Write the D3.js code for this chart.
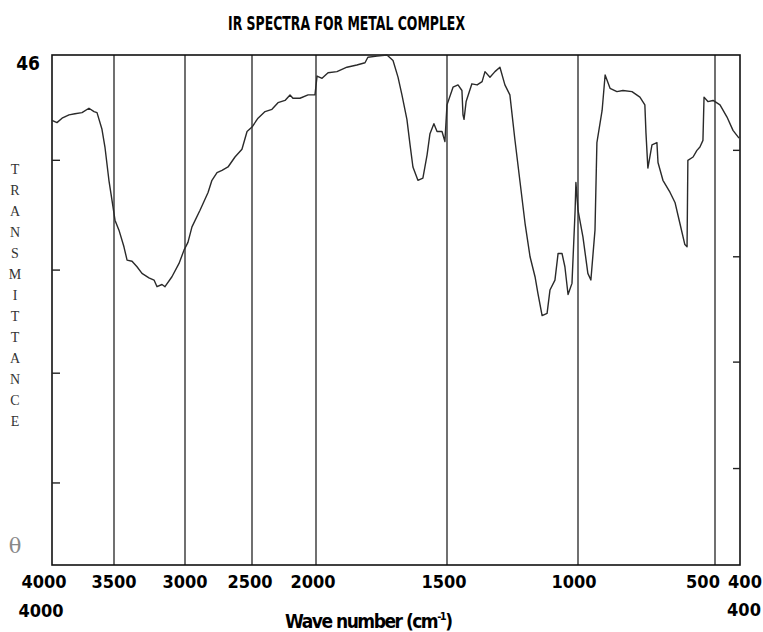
<!DOCTYPE html>
<html>
<head>
<meta charset="utf-8">
<script src="https://cdn.jsdelivr.net/npm/d3@7"></script>
<style>
	body { margin: 0; background: #fff; }
	svg { display: block; }
</style>
</head>
<body>
<script>
// wave number (cm-1) and transmittance, row by row
const wavenumber = [
	4000, 3960, 3919, 3863, 3815, 3758, 3702, 3661, 3637, 3597, 3573, 3541, 3508,
	3493, 3465, 3430, 3408, 3373, 3338, 3303, 3254, 3218, 3197, 3162, 3141, 3092, 3042, 3007,
	2978, 2948, 2888, 2828, 2799, 2761, 2724, 2679, 2627, 2575, 2537,
	2500, 2453, 2398, 2344, 2297, 2242, 2203, 2180, 2125, 2062, 2008,
	1996, 1977, 1954, 1920, 1882, 1844, 1813, 1802, 1767, 1729, 1706, 1687, 1672, 1653, 1641, 1630, 1611, 1592, 1576, 1565, 1550, 1538, 1519, 1508,
	1500, 1477, 1458, 1443, 1439, 1435, 1427, 1405, 1385, 1366, 1355, 1336, 1317, 1298, 1279, 1260, 1241, 1221, 1202, 1183, 1164, 1153, 1137,
	1118, 1107, 1088, 1076, 1061, 1050, 1038, 1023, 1011, 1008, 1000,
	982, 964, 953, 938, 931, 912, 901, 883, 858, 836, 803, 774, 756, 752, 745, 730, 712, 708, 690, 664, 646, 628, 610, 602,
	599, 580, 566, 555, 544, 540, 526, 507, 480, 452, 428, 404
];
const transmittance = [
	40.1, 39.9, 40.3, 40.6, 40.7, 40.8, 41.2, 40.9, 40.8, 39.3, 37.7, 34.7, 32.3,
	31.1, 30.2, 28.7, 27.5, 27.4, 26.9, 26.3, 25.9, 25.7, 25.1, 25.3, 25.1, 26.0, 27.2, 28.4,
	29.1, 30.5, 32.0, 33.6, 34.7, 35.4, 35.6, 35.9, 36.8, 37.5, 39.1,
	39.5, 40.3, 40.9, 41.1, 41.7, 41.9, 42.4, 42.1, 42.1, 42.4, 42.4,
	44.1, 43.9, 44.4, 44.5, 44.9, 45.1, 45.3, 45.8, 45.9, 46.0, 45.5, 44.0, 42.4, 40.2, 37.9, 35.9, 34.7, 34.9, 37.0, 38.9, 39.8, 39.1, 39.1, 38.2,
	41.5, 43.1, 43.3, 42.8, 40.6, 40.2, 41.8, 43.4, 43.3, 43.6, 44.5, 44.0, 44.5, 44.9, 43.3, 42.4, 38.4, 34.5, 30.8, 27.8, 26.0, 24.5, 22.5,
	22.7, 24.8, 25.7, 28.1, 28.1, 26.9, 24.4, 25.4, 32.0, 34.5, 32.0,
	29.6, 26.3, 25.7, 30.2, 38.1, 41.0, 44.2, 43.0, 42.7, 42.8, 42.7, 42.2, 41.5, 39.0, 35.8, 37.9, 38.1, 36.3, 34.7, 33.6, 32.7, 30.8, 28.9, 28.7,
	36.5, 36.8, 37.4, 37.7, 38.3, 42.2, 41.8, 41.9, 41.5, 40.4, 39.2, 38.5
];

// instrument chart paper: scale doubles below 2000
const grid_values = [4000, 3500, 3000, 2500, 2000, 1500, 1000, 500, 400];
const grid_lines = [3500, 3000, 2500, 2000, 1500, 1000, 500];
const tick_labels = ["4000", "3500", "3000", "2500", "2000", "1500", "1000", "500", "400"];
const left_ticks = [36.5, 26.6, 17.3, 7.4];
const right_ticks = [37.4, 27.8, 18.3, 8.7];
const ylabel = "TRANSMITTANCE";

const W = 763, H = 632;
const m = { left: 52, right: 740, top: 55, bottom: 565 };
const digits = "'DejaVu Sans Condensed', 'DejaVu Sans', sans-serif";

const svg = d3.select("body").append("svg")
	.attr("width", W)
	.attr("height", H);

const x = d3.scaleLinear()
	.domain(grid_values)
	.range([m.left, 114, 185, 252, 316, 447, 578, 715, m.right]);

const y = d3.scaleLinear()
	.domain([0, 46])
	.range([m.bottom, m.top]);

svg.append("text")
	.attr("x", 228)
	.attr("y", 30)
	.attr("textLength", 237)
	.attr("lengthAdjust", "spacingAndGlyphs")
	.attr("font-family", digits)
	.attr("font-weight", "bold")
	.attr("font-size", 19)
	.text("IR SPECTRA FOR METAL COMPLEX");

svg.append("g")
	.selectAll("line")
	.data(grid_lines)
	.enter().append("line")
	.attr("x1", d => x(d))
	.attr("x2", d => x(d))
	.attr("y1", m.top)
	.attr("y2", m.bottom)
	.attr("stroke", "#111")
	.attr("stroke-width", 1.2);

svg.append("rect")
	.attr("x", m.left)
	.attr("y", m.top)
	.attr("width", m.right - m.left)
	.attr("height", m.bottom - m.top)
	.attr("fill", "none")
	.attr("stroke", "#111")
	.attr("stroke-width", 1.6);

svg.append("g")
	.selectAll("line")
	.data(left_ticks)
	.enter().append("line")
	.attr("x1", m.left)
	.attr("x2", m.left + 8)
	.attr("y1", d => y(d))
	.attr("y2", d => y(d))
	.attr("stroke", "#222")
	.attr("stroke-width", 1.4);

svg.append("g")
	.selectAll("line")
	.data(right_ticks)
	.enter().append("line")
	.attr("x1", m.right - 7)
	.attr("x2", m.right)
	.attr("y1", d => y(d))
	.attr("y2", d => y(d))
	.attr("stroke", "#222")
	.attr("stroke-width", 1.4);

const pts = wavenumber.map((w, i) => [w, transmittance[i]]);

const line = d3.line()
	.x(d => x(d[0]))
	.y(d => y(d[1]));

svg.append("path")
	.datum(pts)
	.attr("d", line)
	.attr("fill", "none")
	.attr("stroke", "#2a2a2a")
	.attr("stroke-width", 1.4)
	.attr("stroke-linejoin", "round");

// end labels sit a bit off their grid position on the paper
const nudge = { "4000": -8, "2500": -2, "2000": -3, "1500": -3, "1000": -4, "500": -12, "400": 5 };

svg.append("g")
	.selectAll("text")
	.data(grid_values)
	.enter().append("text")
	.attr("x", (d, i) => x(d) + (nudge[tick_labels[i]] || 0))
	.attr("y", 588)
	.attr("text-anchor", "middle")
	.attr("font-family", digits)
	.attr("font-weight", "bold")
	.attr("font-size", 18)
	.text((d, i) => tick_labels[i]);

svg.append("text")
	.attr("x", 41)
	.attr("y", 617)
	.attr("text-anchor", "middle")
	.attr("font-family", digits)
	.attr("font-weight", "bold")
	.attr("font-size", 18)
	.text(tick_labels[0]);

svg.append("text")
	.attr("x", 744)
	.attr("y", 616)
	.attr("text-anchor", "middle")
	.attr("font-family", digits)
	.attr("font-weight", "bold")
	.attr("font-size", 18)
	.text(tick_labels[tick_labels.length - 1]);

svg.append("text")
	.attr("x", 40)
	.attr("y", y(46) + 15)
	.attr("text-anchor", "end")
	.attr("font-family", digits)
	.attr("font-weight", "bold")
	.attr("font-size", 19)
	.text("46");

svg.append("text")
	.attr("x", 15)
	.attr("y", 553)
	.attr("text-anchor", "middle")
	.attr("font-family", "'DejaVu Serif', serif")
	.attr("font-size", 21)
	.attr("fill", "#888")
	.text("θ");

svg.append("g")
	.selectAll("text")
	.data(ylabel.split(""))
	.enter().append("text")
	.attr("x", 15)
	.attr("y", (d, i) => 174 + i * 21)
	.attr("text-anchor", "middle")
	.attr("font-family", "'Liberation Serif', serif")
	.attr("font-size", 14)
	.attr("fill", "#333")
	.text(d => d);

const xl = svg.append("text")
	.attr("x", 285)
	.attr("y", 628)
	.attr("textLength", 168)
	.attr("font-family", digits)
	.attr("font-weight", "bold")
	.attr("font-size", 19);

xl.append("tspan").text("Wave number (cm");
xl.append("tspan").attr("dy", -8).attr("font-size", 11).text("-1");
xl.append("tspan").attr("dy", 8).text(")");
</script>
</body>
</html>
